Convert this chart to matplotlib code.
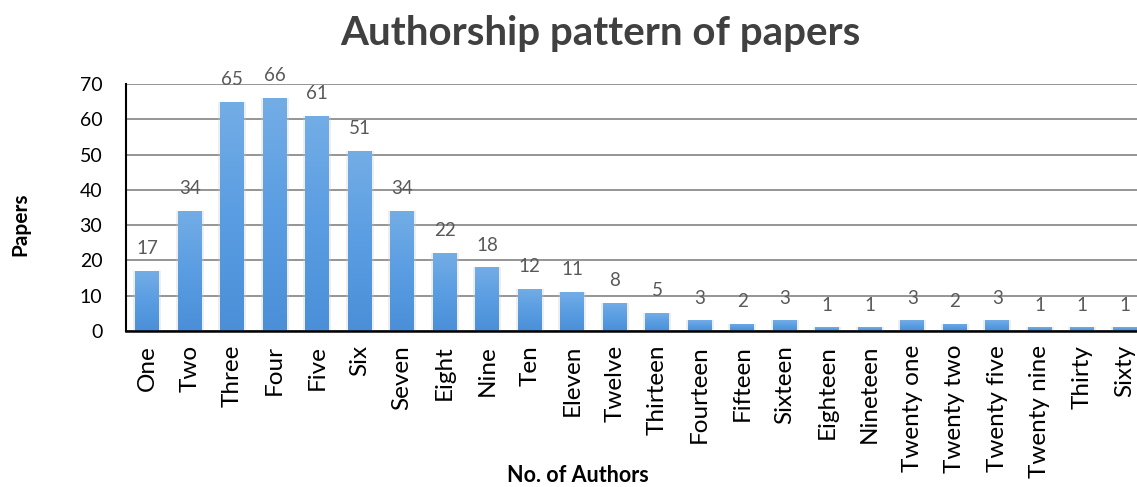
import numpy as np
import matplotlib.pyplot as plt
from matplotlib.colors import LinearSegmentedColormap

plt.rcParams['font.family'] = ['Lato', 'DejaVu Sans']

authors = ['One', 'Two', 'Three', 'Four', 'Five', 'Six', 'Seven', 'Eight', 'Nine', 'Ten',
           'Eleven', 'Twelve', 'Thirteen', 'Fourteen', 'Fifteen', 'Sixteen', 'Eighteen',
           'Nineteen', 'Twenty one', 'Twenty two', 'Twenty five', 'Twenty nine', 'Thirty', 'Sixty']
papers = [17, 34, 65, 66, 61, 51, 34, 22, 18, 12, 11, 8, 5, 3, 2, 3, 1, 1, 3, 2, 3, 1, 1, 1]

fig = plt.figure(figsize=(11.37, 4.87), dpi=100)
ax = fig.add_axes([0.1108, 0.3203, 0.8892, 0.5072])

x = np.arange(len(authors))
width = 0.56
bars = ax.bar(x, papers, width=width, color='none', edgecolor='none', zorder=3)

# vertical gradient fill for each bar, lighter at the top
cmap = LinearSegmentedColormap.from_list('bar', ['#4a8fd8', '#5a9de2', '#73ade6'])
grad = np.linspace(0, 1, 256).reshape(-1, 1)
for b in bars:
    x0, w, h = b.get_x(), b.get_width(), b.get_height()
    # faint shadow around the bar
    ax.bar(x0 + w / 2, h, width=w + 0.1, color='#c8c8c8', alpha=0.3, zorder=2)
    im = ax.imshow(grad, cmap=cmap, aspect='auto', extent=[x0, x0 + w, 0, h],
                   origin='lower', zorder=3)
    im.set_clip_path(b)

for xi, v in zip(x, papers):
    ax.annotate(str(v), (xi, v), xytext=(0, 10), textcoords='offset points',
                ha='center', va='bottom', fontsize=13.5, color='#595959')

ax.set_xlim(-0.5, len(authors) - 0.71)
ax.set_ylim(0, 70)
ax.set_yticks(range(0, 71, 10))
ax.set_xticks(x)
ax.set_xticklabels(authors, rotation=90, fontsize=17.5, color='black')
ax.tick_params(axis='y', labelsize=14, length=0, pad=17, colors='black')
ax.tick_params(axis='x', length=0, pad=10)
ax.grid(axis='y', color='#8c8c8c', linewidth=1.3, zorder=0)
ax.set_axisbelow(True)
for s in ['top', 'right']:
    ax.spines[s].set_visible(False)
ax.spines['left'].set_linewidth(1.5)
ax.spines['bottom'].set_linewidth(1.8)
ax.spines['bottom'].set_zorder(4)

fig.text(0.528, 0.932, 'Authorship pattern of papers', ha='center', va='center',
         fontsize=29, fontweight='bold', color='#404040')
fig.text(0.018, 0.54, 'Papers', rotation=90, ha='center', va='center',
         fontsize=15, fontweight='bold')
fig.text(0.508, 0.024, 'No. of Authors', ha='center', va='center',
         fontsize=15.5, fontweight='bold')

fig.savefig('out.png', dpi=100)
